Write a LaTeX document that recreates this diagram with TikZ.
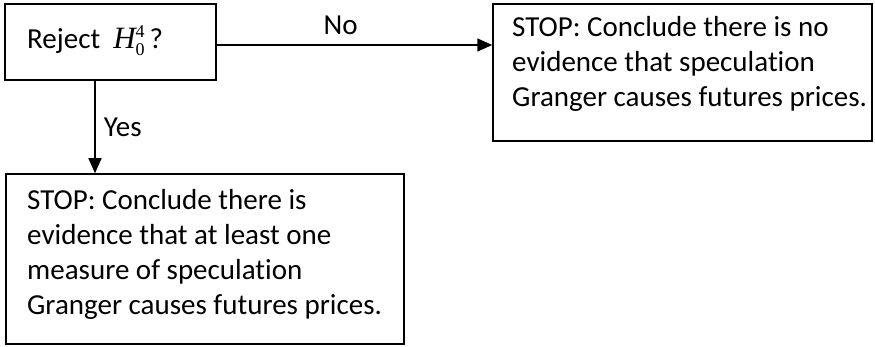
\documentclass[tikz,border=0pt]{standalone}
\usepackage{fontspec}
\setmainfont{Carlito}[Ligatures=NoCommon]
\newfontfamily\timesfont{Liberation Serif}
\usetikzlibrary{arrows.meta}
\begin{document}
\begin{tikzpicture}[x=1pt,y=-1pt,
  box/.style={draw=black, line width=1.5pt, inner sep=0pt},
  txt/.style={inner sep=0pt, align=left, font=\fontsize{29}{34.8}\selectfont},
  conn/.style={line width=1.5pt, -{Triangle[length=15pt,width=13pt]}}]
\useasboundingbox (0,0) rectangle (875,347);
\node[box, minimum width=211pt, minimum height=76pt] (b1) at (110.5,42) {};
\node[box, minimum width=379pt, minimum height=137pt] (b2) at (682.5,72.5) {};
\node[box, minimum width=398pt, minimum height=170pt] (b3) at (205,259) {};
\node[txt, anchor=base west] (t1) at (27,49) {Reject\ \ {\timesfont\fontsize{31}{31}\selectfont\itshape H}\rlap{\raisebox{-7pt}{\timesfont\fontsize{18}{18}\selectfont 0}}\raisebox{11pt}{\timesfont\fontsize{18}{18}\selectfont 4}\,?};
\node[txt, anchor=north west] (t2) at (512,16.5) {STOP: Conclude there is no\\evidence that speculation\\Granger causes futures prices.};
\node[txt, anchor=north west] (t3) at (27,189.5) {STOP: Conclude there is\\evidence that at least one\\measure of speculation\\Granger causes futures prices.};
\coordinate (yx) at (95,0);
\draw[conn] ([yshift=-3pt]b1.east) -- ([yshift=-3pt]b1.east -| b2.west)
  node[pos=0.45, anchor=base, yshift=10pt, txt] (no) {No};
\draw[conn] (b1.south -| yx) -- (b3.north -| yx)
  node[pos=0.606, anchor=base west, xshift=8pt, txt] (yes) {Yes};
\end{tikzpicture}
\end{document}
